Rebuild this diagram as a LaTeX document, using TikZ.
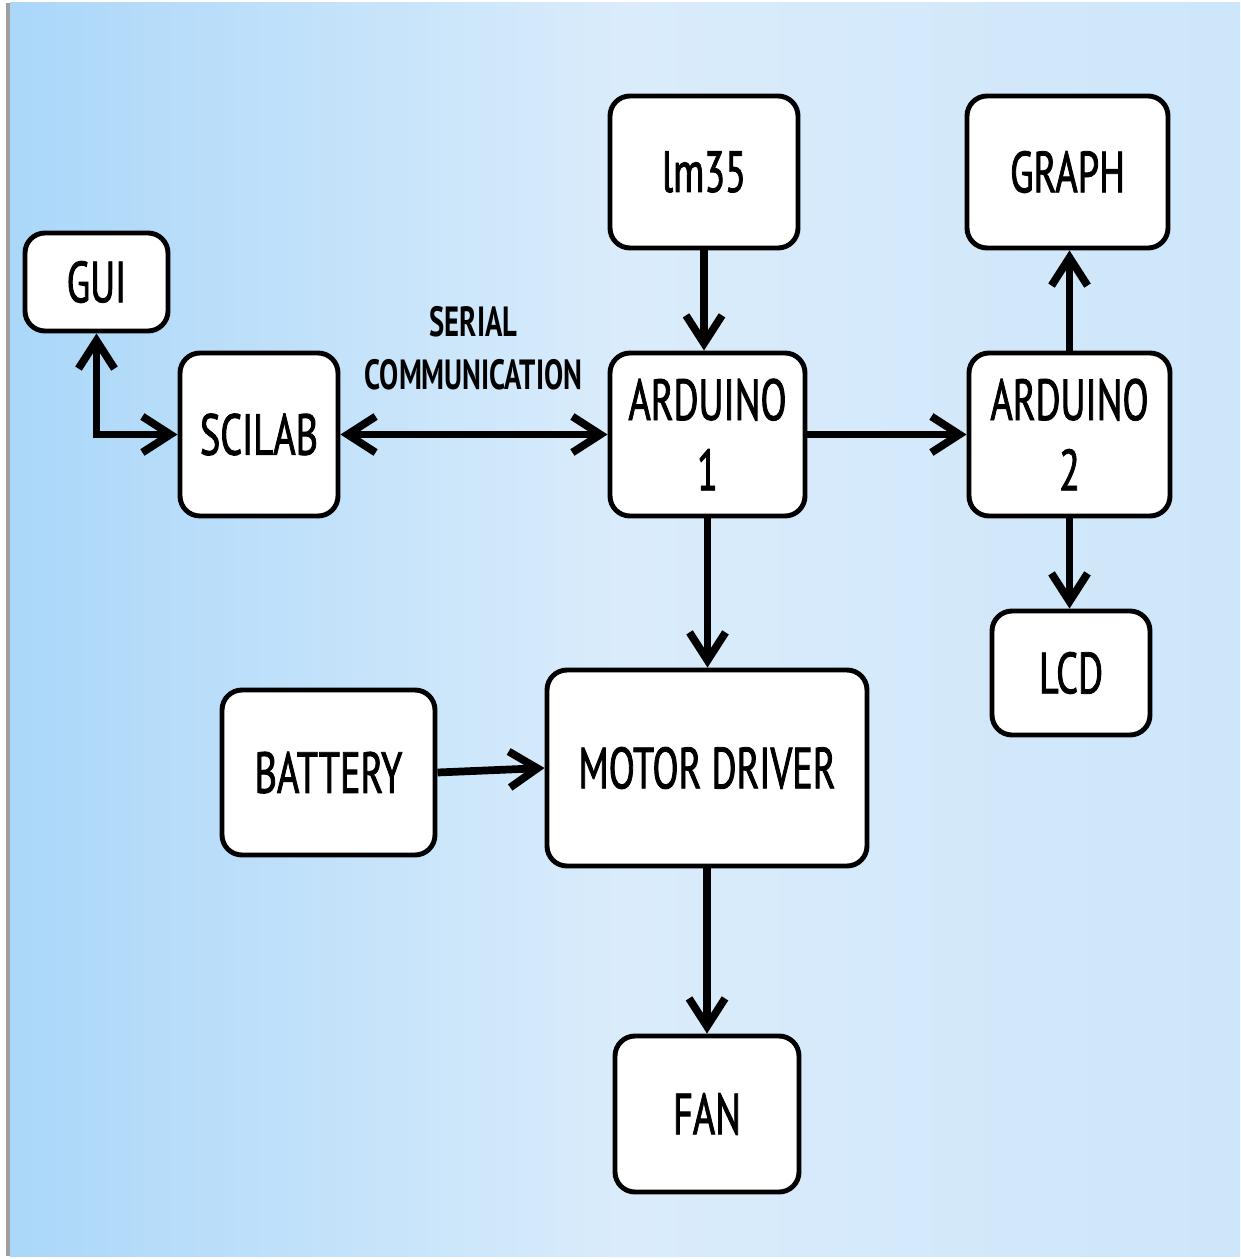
\documentclass[tikz,border=0pt]{standalone}
\usepackage{fontspec}
\setmainfont{PT Sans}[FakeStretch=0.68]
\newfontfamily\lblfont{PT Sans}[FakeStretch=0.66, FakeBold=1.4]
\usepackage{tikz}
\usetikzlibrary{arrows.meta,positioning,fadings}

\definecolor{bgleft}{RGB}{170,215,249}
\definecolor{bgmid}{RGB}{218,236,251}
\definecolor{bgright}{RGB}{205,230,250}
\tikzfading[name=midband, top color=transparent!100, middle color=transparent!40, bottom color=transparent!100]

\tikzset{
  blk/.style={draw, line width=1.4pt, rounded corners=0.2cm, fill=white, align=center,
    inner sep=0pt, font=\lblfont\fontsize{16.5}{20}\selectfont},
  link/.style={line width=2.2pt, -{Straight Barb[length=0.28cm, width=0.36cm]}},
  bilink/.style={line width=2.2pt, {Straight Barb[length=0.28cm, width=0.36cm]}-{Straight Barb[length=0.28cm, width=0.36cm]}}
}

\begin{document}
\begin{tikzpicture}

% Background
\fill[white] (0,0) rectangle (12.4,-12.59);
\shade[left color=bgleft, right color=bgright, middle color=bgmid] (0.1,-0.03) rectangle (12.4,-12.56);
\fill[white, path fading=midband] (0.1,-8.3) rectangle (12.4,-10.1);
\fill[gray!75] (0.06,-0.03) rectangle (0.1,-12.56);
\useasboundingbox (0,0) rectangle (12.4,-12.59);

% PC side
\node[blk, minimum width=1.43cm, minimum height=0.98cm] (gui) at (0.965,-2.82) {GUI};
\node[blk, minimum width=1.58cm, minimum height=1.63cm] (scilab) at (2.59,-4.345) {SCILAB};

% Sensor and controllers
\node[blk, minimum width=1.88cm, minimum height=1.52cm] (lm) at (7.04,-1.72) {lm35};
\node[blk, minimum width=1.95cm, minimum height=1.63cm] (ardA) at (7.075,-4.345) {ARDUINO\\1};
\node[blk, minimum width=2.01cm, minimum height=1.52cm] (graph) at (10.675,-1.72) {GRAPH};
\node[blk, minimum width=2.01cm, minimum height=1.63cm] (ardB) at (10.695,-4.345) {ARDUINO\\2};
\node[blk, minimum width=1.58cm, minimum height=1.24cm] (lcd) at (10.71,-6.73) {LCD};

% Power stage
\node[blk, minimum width=2.13cm, minimum height=1.65cm] (battery) at (3.285,-7.725) {BATTERY};
\node[blk, minimum width=3.20cm, minimum height=1.96cm] (motor) at (7.07,-7.68) {MOTOR DRIVER};
\node[blk, minimum width=1.84cm, minimum height=1.56cm] (fan) at (7.07,-11.14) {FAN};

% Link label
\node[align=center, font=\bfseries\fontsize{12}{15}\selectfont] (serial) at (4.735,-3.485) {SERIAL\\COMMUNICATION};

% Connections
\draw[bilink] (gui.south) |- (scilab.west);
\draw[bilink] (scilab.east) -- (ardA.west);
\draw[link] (lm.south) -- (lm.south |- ardA.north);
\draw[link] (ardA.east) -- (ardB.west);
\draw[link] (ardB.north) -- (ardB.north |- graph.south);
\draw[link] (ardB.south) -- (ardB.south |- lcd.north);
\draw[link] (ardA.south) -- (ardA.south |- motor.north);
\draw[link] (battery.east) -- (motor.west);
\draw[link] (motor.south) -- (fan.north);

\end{tikzpicture}
\end{document}
